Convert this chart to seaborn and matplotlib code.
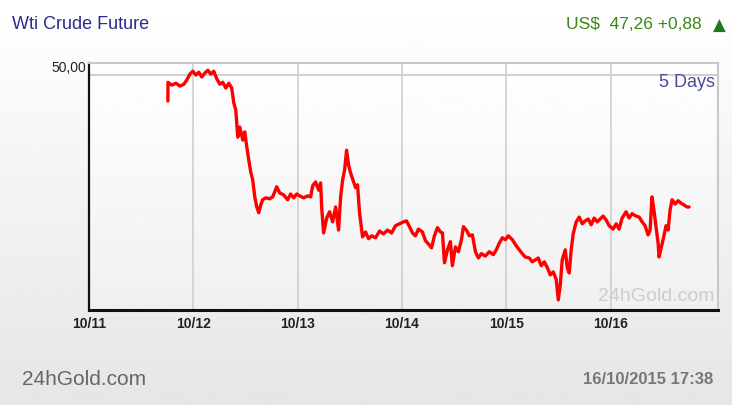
import seaborn as sns
import matplotlib.pyplot as plt
import numpy as np
import pandas as pd

# days since 10/11 00:00, and price in US$
days = [0.756, 0.757, 0.794, 0.833, 0.871, 0.909, 0.938, 0.967, 0.995, 1.024,
        1.053, 1.081, 1.110, 1.139, 1.167, 1.196, 1.225, 1.254, 1.282, 1.311,
        1.340, 1.368, 1.388, 1.407, 1.426, 1.445, 1.474, 1.493, 1.512, 1.531,
        1.550, 1.569, 1.589, 1.608, 1.627, 1.646, 1.665, 1.694, 1.732, 1.761,
        1.799, 1.828, 1.866, 1.904, 1.933, 1.962, 1.991, 2.019, 2.058, 2.096,
        2.124, 2.144, 2.172, 2.201, 2.220, 2.230, 2.249, 2.278, 2.306, 2.335,
        2.364, 2.392, 2.412, 2.431, 2.450, 2.469, 2.488, 2.507, 2.536, 2.555,
        2.574, 2.593, 2.622, 2.651, 2.680, 2.708, 2.747, 2.785, 2.823, 2.861,
        2.900, 2.938, 2.976, 3.014, 3.043, 3.072, 3.101, 3.129, 3.158, 3.196,
        3.225, 3.254, 3.283, 3.311, 3.340, 3.369, 3.388, 3.407, 3.436, 3.464,
        3.483, 3.512, 3.541, 3.570, 3.589, 3.617, 3.646, 3.675, 3.704, 3.732,
        3.761, 3.799, 3.837, 3.876, 3.904, 3.933, 3.962, 3.991, 4.019, 4.058,
        4.096, 4.124, 4.153, 4.182, 4.220, 4.249, 4.278, 4.306, 4.335, 4.364,
        4.393, 4.421, 4.450, 4.479, 4.498, 4.517, 4.536, 4.565, 4.584, 4.603,
        4.622, 4.641, 4.670, 4.699, 4.728, 4.756, 4.785, 4.814, 4.842, 4.871,
        4.900, 4.928, 4.957, 4.986, 5.024, 5.053, 5.081, 5.110, 5.148, 5.177,
        5.206, 5.244, 5.273, 5.302, 5.330, 5.359, 5.378, 5.397, 5.417, 5.436,
        5.455, 5.464, 5.484, 5.503, 5.531, 5.551, 5.570, 5.589, 5.618, 5.646,
        5.675, 5.704, 5.732, 5.752]
prices = [49.46, 49.85, 49.79, 49.83, 49.77, 49.81, 49.90, 50.02, 50.08, 50.00,
          50.06, 49.96, 50.04, 50.10, 50.02, 50.08, 49.92, 49.81, 49.85, 49.73,
          49.83, 49.73, 49.42, 49.27, 48.71, 48.92, 48.65, 48.82, 48.51, 48.24,
          47.99, 47.82, 47.47, 47.26, 47.14, 47.30, 47.41, 47.45, 47.43, 47.47,
          47.68, 47.55, 47.51, 47.41, 47.53, 47.45, 47.53, 47.49, 47.45, 47.49,
          47.47, 47.70, 47.78, 47.61, 47.76, 47.26, 46.72, 47.03, 47.16, 46.95,
          47.26, 46.78, 47.47, 47.82, 48.03, 48.44, 48.13, 47.97, 47.78, 47.66,
          47.72, 47.14, 46.64, 46.74, 46.60, 46.66, 46.62, 46.76, 46.70, 46.78,
          46.72, 46.87, 46.91, 46.95, 46.97, 46.85, 46.72, 46.66, 46.80, 46.74,
          46.56, 46.49, 46.41, 46.66, 46.83, 46.74, 46.72, 46.10, 46.37, 46.54,
          46.04, 46.43, 46.33, 46.58, 46.85, 46.78, 46.66, 46.68, 46.33, 46.20,
          46.29, 46.24, 46.33, 46.27, 46.37, 46.51, 46.62, 46.58, 46.66, 46.58,
          46.45, 46.37, 46.29, 46.22, 46.20, 46.12, 46.16, 46.20, 46.04, 46.12,
          46.00, 45.85, 45.91, 45.75, 45.33, 45.64, 46.16, 46.37, 46.00, 45.89,
          46.37, 46.70, 46.95, 47.05, 46.91, 46.97, 47.01, 46.89, 47.03, 46.95,
          47.01, 47.07, 46.99, 46.87, 46.80, 46.91, 46.80, 47.03, 47.16, 47.03,
          47.12, 47.07, 47.05, 46.95, 46.87, 46.68, 46.78, 47.47, 47.16, 46.83,
          46.51, 46.22, 46.41, 46.58, 46.87, 46.78, 47.20, 47.41, 47.32, 47.39,
          47.34, 47.30, 47.26, 47.26]

tick_days = [0, 1, 2, 3, 4, 5]
tick_labels = ["10/11", "10/12", "10/13", "10/14", "10/15", "10/16"]

df = pd.DataFrame({"day": days, "price": prices})

sns.set_style("white")
plt.rcParams['font.family'] = ['Liberation Sans Narrow', 'Liberation Sans', 'DejaVu Sans']

fig = plt.figure(figsize=(7.32, 4.05), dpi=100)

# background gradient (white -> light grey)
bg = fig.add_axes([0, 0, 1, 1], zorder=-10)
grad = np.linspace(1.0, 0.9, 256).reshape(-1, 1)
bg.imshow(grad, aspect="auto", cmap="gray", vmin=0, vmax=1, extent=[0, 1, 0, 1])
bg.axis("off")

ax = fig.add_axes([0.1216, 0.2346, 0.8594, 0.6098])
ax.set_facecolor("none")
ax.imshow(np.linspace(1.0, 0.94, 256).reshape(-1, 1), aspect="auto", cmap="gray",
          vmin=0, vmax=1, extent=[0, 6.03, 45.12, 50.25], zorder=0)

sns.lineplot(data=df, x="day", y="price", sort=False, estimator=None,
             color="#ff0000", linewidth=2.4, ax=ax, zorder=3)

ax.set_xlim(0, 6.03)
ax.set_ylim(45.12, 50.25)
ax.set_xticks(tick_days)
ax.set_xticklabels(tick_labels, fontsize=10, fontweight="bold", color="#222222")
ax.set_yticks([50])
ax.set_yticklabels(["50,00"], fontsize=10, color="#222222")
ax.tick_params(axis="x", length=3, width=1, pad=2, colors="#222222")
ax.tick_params(axis="y", length=0, pad=2)
for lab in ax.get_yticklabels():
    lab.set_verticalalignment("bottom")
ax.set_xlabel("")
ax.set_ylabel("")

for d in tick_days[1:]:
    ax.axvline(d, color="#cfcfcf", linewidth=1.2, zorder=1)
ax.axhline(50, color="#d0d0d0", linewidth=1.5, zorder=1)

ax.spines["left"].set_color("#111111")
ax.spines["left"].set_linewidth(1.6)
ax.spines["bottom"].set_color("#111111")
ax.spines["bottom"].set_linewidth(2.2)
ax.spines["top"].set_color("#c8c8c8")
ax.spines["top"].set_linewidth(1.5)
ax.spines["right"].set_color("#c8c8c8")
ax.spines["right"].set_linewidth(1.5)
ax.spines["top"].set_visible(True)
ax.spines["right"].set_visible(True)

ax.text(0.995, 0.955, "5 Days", transform=ax.transAxes, ha="right", va="top",
        fontsize=13, color="#4a4a9c")
ax.text(0.995, 0.02, "24hGold.com", transform=ax.transAxes, ha="right", va="bottom",
        fontsize=14, color="#cccccc")

fig.text(0.016, 0.94, "Wti Crude Future", fontsize=13, color="#2b2b8c", va="center")
fig.text(0.958, 0.94, "US$  47,26 +0,88", fontsize=12.5, color="#3a8a10",
         va="center", ha="right")
fig.text(0.992, 0.935, "\u25b2", fontsize=12, color="#1f7a1f", va="center", ha="right",
         family=["DejaVu Sans"])
fig.text(0.03, 0.062, "24hGold.com", fontsize=15, color="#666666", va="center")
fig.text(0.975, 0.062, "16/10/2015 17:38", fontsize=12, color="#777777",
         va="center", ha="right", fontweight="bold")

plt.savefig("out.png", dpi=100)
